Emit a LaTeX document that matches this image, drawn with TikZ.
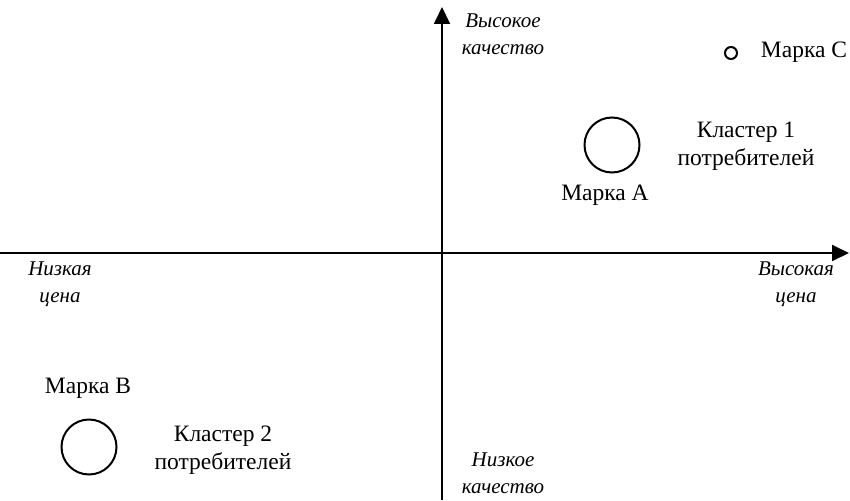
\documentclass[tikz,border=0pt]{standalone}
\usepackage{fontspec}
\setmainfont{Liberation Serif}
\usetikzlibrary{arrows.meta}
\begin{document}
\begin{tikzpicture}[x=1pt,y=-1pt,
  axis/.style={line width=1.8pt,-{Triangle[length=17pt,width=16pt]}},
  lbl/.style={font=\fontsize{23.5}{28}\selectfont,align=center,inner sep=0pt},
  ilbl/.style={font=\fontsize{21}{27}\selectfont\itshape,align=center,inner sep=0pt},
  ring/.style={draw,circle,line width=2pt,inner sep=0pt}]
\useasboundingbox (0,0) rectangle (850,500);
\coordinate (xs) at (0,253);
\coordinate (xe) at (849,253);
\coordinate (ys) at (442,500);
\coordinate (ye) at (442,7);
\draw[axis] (xs) -- (xe);
\draw[axis] (ys) -- (ye);
\node[ilbl] (hq) at (503,34) {Высокое\\качество};
\node[ilbl] (lp) at (60,284) {Низкая\\цена};
\node[ilbl] (hp) at (796,284) {Высокая\\цена};
\node[ilbl] (lq) at (503,473) {Низкое\\качество};
\node[ring,minimum size=55pt] (ca) at (612,145) {};
\node[lbl] (k1) at (746,146) {Кластер 1\\потребителей};
\node[lbl] (ma) at (605,195) {Марка А};
\node[ring,minimum size=12pt] (cc) at (731,53) {};
\node[lbl] (mc) at (804,52) {Марка С};
\node[lbl] (mb) at (88,388) {Марка В};
\node[ring,minimum size=55pt] (cb) at (89,447) {};
\node[lbl] (k2) at (223,450) {Кластер 2\\потребителей};
\end{tikzpicture}
\end{document}
